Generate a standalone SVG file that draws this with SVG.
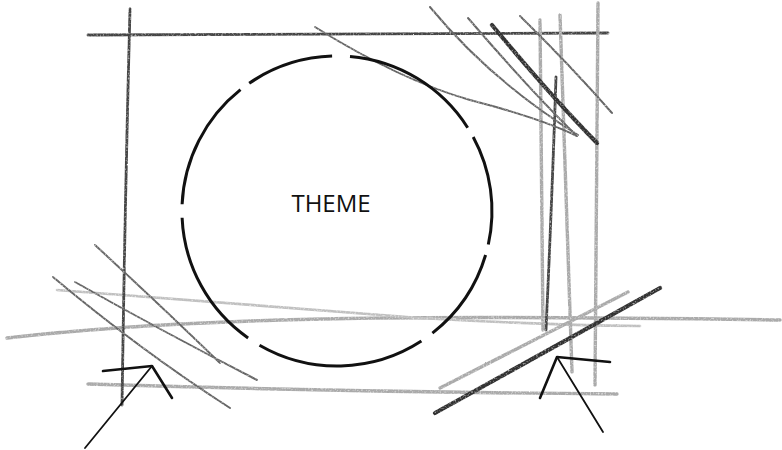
<svg xmlns="http://www.w3.org/2000/svg" width="782" height="450" viewBox="0 0 782 450">
  <defs>
    <filter id="pencil" x="-5%" y="-5%" width="110%" height="110%">
      <feTurbulence type="fractalNoise" baseFrequency="0.45" numOctaves="2" seed="3" result="n"/>
      <feDisplacementMap in="SourceGraphic" in2="n" scale="1.4" xChannelSelector="R" yChannelSelector="G" result="d"/>
      <feTurbulence type="fractalNoise" baseFrequency="0.6" numOctaves="1" seed="8" result="g"/>
      <feColorMatrix in="g" type="matrix" values="0 0 0 0 0  0 0 0 0 0  0 0 0 0 0  2 0 0 0 0" result="ga"/>
      <feComposite in="d" in2="ga" operator="in"/>
    </filter>
    <style>
      .p { fill: none; stroke-linecap: round; stroke-linejoin: round; }
      .dark { stroke: #444; stroke-width: 2.8; }
      .mid { stroke: #666; stroke-width: 2; }
      .light { stroke: #aaa; stroke-width: 3.4; }
      .faint { stroke: #c0c0c0; stroke-width: 2.6; }
      .heavy { stroke: #333; stroke-width: 4.2; }
      .ink { fill: none; stroke: #111; stroke-width: 2.6; stroke-linecap: round; stroke-linejoin: round; }
      .arc { fill: none; stroke: #111; stroke-width: 3; stroke-linecap: butt; }
      .label { font-family: "Open Sans", "Liberation Sans", sans-serif; font-size: 24px; fill: #111; }
    </style>
  </defs>
  <rect width="782" height="450" fill="#ffffff"/>

  <g id="pencil-frame" filter="url(#pencil)">
    <!-- horizontals -->
    <path class="p dark" d="M88 35 Q 350 33 608 33"/>
    <path class="p light" d="M7 338 Q 120 325 280 320 T 780 320"/>
    <path class="p faint" d="M57 290 Q 250 305 420 318 Q 540 325 640 326"/>
    <path class="p light" d="M88 384 Q 350 392 617 394"/>
    <!-- left vertical -->
    <path class="p dark" d="M130 9 Q 125 200 122 405"/>
    <!-- right verticals -->
    <path class="p light" d="M540 20 Q 542 180 543 330"/>
    <path class="p dark" d="M556 77 Q 552 200 546 330"/>
    <path class="p light" d="M560 15 Q 566 200 572 372"/>
    <path class="p light" d="M598 3 Q 596 200 595 385"/>
    <!-- top-right diagonals -->
    <path class="p mid" d="M430 7 Q 490 80 578 135"/>
    <path class="p mid" d="M468 18 Q 530 90 575 134"/>
    <path class="p heavy" d="M492 25 Q 550 95 597 143"/>
    <path class="p mid" d="M520 16 Q 570 65 612 113"/>
    <path class="p mid" d="M315 27 Q 400 80 470 100 Q 540 118 577 136"/>
    <!-- bottom-left diagonals -->
    <path class="p mid" d="M95 245 Q 160 305 220 363"/>
    <path class="p mid" d="M75 282 Q 160 330 257 380"/>
    <path class="p mid" d="M53 277 Q 140 350 230 408"/>
    <!-- bottom-right diagonals -->
    <path class="p light" d="M440 388 L 628 292"/>
    <path class="p heavy" d="M435 413 L 660 288"/>
  </g>

  <g id="theme-circle">
    <path class="arc" d="M485.6 255 A155 155 0 0 1 432.4 333.1"/>
    <path class="arc" d="M421.4 341 A155 155 0 0 1 259.5 345.2"/>
    <path class="arc" d="M248.1 338 A155 155 0 0 1 182.1 217.8"/>
    <path class="arc" d="M182.1 204.2 A155 155 0 0 1 240.5 89.7"/>
    <path class="arc" d="M249.2 83.3 A155 155 0 0 1 332.1 56.1"/>
    <path class="arc" d="M350 56.5 A155 155 0 0 1 467.7 127.7"/>
    <path class="arc" d="M473.2 137 A155 155 0 0 1 488.3 244.5"/>
    <text class="label" x="331" y="212" text-anchor="middle">THEME</text>
  </g>

  <g id="marker-left">
    <path class="ink" d="M103 371 L 152 366 L 172 398"/>
    <path class="ink" d="M152 366 L 85 448" style="stroke-width:1.8"/>
  </g>

  <g id="marker-right">
    <path class="ink" d="M610 362 L 557 357 L 540 398"/>
    <path class="ink" d="M557 357 L 603 432" style="stroke-width:1.8"/>
  </g>
</svg>
